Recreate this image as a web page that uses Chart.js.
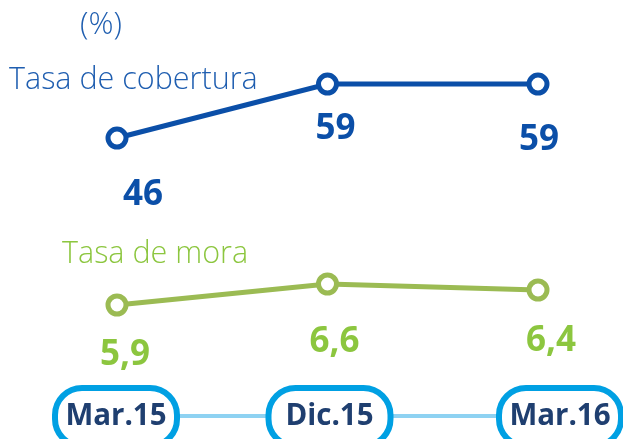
<!DOCTYPE html>
<html>
<head>
<meta charset="utf-8">
<script src="https://cdn.jsdelivr.net/npm/chart.js@4"></script>
<style>
html,body{margin:0;padding:0;background:#fff;}
#wrap{width:623px;height:439px;position:relative;}
</style>
</head>
<body>
<div id="wrap"><canvas id="c" width="623" height="439"></canvas></div>
<script>
const categories = ['Mar.15', 'Dic.15', 'Mar.16'];
const coberturaValues = [46, 59, 59];
const moraValues = [5.9, 6.6, 6.4];
const unitLabel = '(%)';
const seriesNames = ['Tasa de cobertura', 'Tasa de mora'];

const BLUE = '#0b4fa8';
const BLUE_TXT = '#1f5eb0';
const GREEN = '#9bbb53';
const GREEN_TXT = '#8cc63f';
const BOX = '#00a0e3';
const NAVY = '#1f3f70';
const CONNECT = '#8ed2f2';
const FONT = '"Open Sans", "DejaVu Sans", sans-serif';

// label offsets relative to each point (layout only)
const labelOffsets = [
  [[26, 57], [8, 45], [1, 56]],
  [[8, 50], [7, 58], [13, 51]]
];
const boxShift = [-1, 2, 22];

const overlay = {
  id: 'overlay',
  afterDatasetsDraw(chart) {
    const ctx = chart.ctx;
    const xs = chart.scales.x;
    ctx.save();
    ctx.textBaseline = 'alphabetic';
    ctx.textAlign = 'left';
    ctx.fillStyle = BLUE_TXT;
    ctx.font = '300 31px ' + FONT;
    ctx.fillText(unitLabel, 80, 34);
    ctx.font = '300 30.5px ' + FONT;
    ctx.fillText(chart.data.datasets[0].label, 9, 89);
    ctx.fillStyle = GREEN_TXT;
    ctx.fillText(chart.data.datasets[1].label, 62, 263);

    ctx.textAlign = 'center';
    ctx.textBaseline = 'middle';
    ctx.font = 'bold 35px ' + FONT;
    chart.data.datasets.forEach((ds, di) => {
      const meta = chart.getDatasetMeta(di);
      ctx.fillStyle = di === 0 ? BLUE : GREEN_TXT;
      meta.data.forEach((pt, i) => {
        const v = ds.data[i];
        const txt = di === 0 ? String(v) : v.toFixed(1).replace('.', ',');
        const o = labelOffsets[di][i];
        ctx.fillText(txt, pt.x + o[0], pt.y + o[1]);
      });
    });

    const cy = 416;
    const centers = categories.map((c, i) => xs.getPixelForValue(i) + boxShift[i]);
    ctx.strokeStyle = CONNECT;
    ctx.lineWidth = 4;
    ctx.beginPath();
    ctx.moveTo(centers[0], cy);
    ctx.lineTo(centers[centers.length - 1], cy);
    ctx.stroke();
    const bw = 122, bh = 58, r = 27;
    ctx.font = 'bold 29.5px ' + FONT;
    centers.forEach((cx, i) => {
      const x0 = cx - bw / 2, y0 = 388;
      ctx.beginPath();
      ctx.roundRect(x0, y0, bw, bh, r);
      ctx.fillStyle = '#fff';
      ctx.fill();
      ctx.lineWidth = 6;
      ctx.strokeStyle = BOX;
      ctx.stroke();
      ctx.fillStyle = NAVY;
      ctx.textAlign = 'center';
      ctx.textBaseline = 'middle';
      ctx.fillText(categories[i], cx, cy + 1);
    });
    ctx.restore();
  }
};

new Chart(document.getElementById('c'), {
  type: 'line',
  data: {
    labels: categories,
    datasets: [
      {
        label: seriesNames[0],
        data: coberturaValues,
        yAxisID: 'y',
        borderColor: BLUE,
        borderWidth: 5,
        pointRadius: 9,
        pointBorderWidth: 5,
        pointBackgroundColor: '#fff',
        pointBorderColor: BLUE,
        tension: 0,
        clip: false
      },
      {
        label: seriesNames[1],
        data: moraValues,
        yAxisID: 'y2',
        borderColor: GREEN,
        borderWidth: 5,
        pointRadius: 9,
        pointBorderWidth: 5,
        pointBackgroundColor: '#fff',
        pointBorderColor: GREEN,
        tension: 0,
        clip: false
      }
    ]
  },
  options: {
    responsive: false,
    devicePixelRatio: 1,
    animation: false,
    layout: { padding: { left: 117, right: 85, top: 20, bottom: 20 } },
    plugins: { legend: { display: false }, tooltip: { enabled: false } },
    scales: {
      x: { type: 'category', offset: false, display: false },
      y: { display: false, min: -21.64, max: 74.41 },
      y2: { display: false, min: 2.1, max: 15.4 }
    }
  },
  plugins: [overlay]
});
</script>
</body>
</html>
